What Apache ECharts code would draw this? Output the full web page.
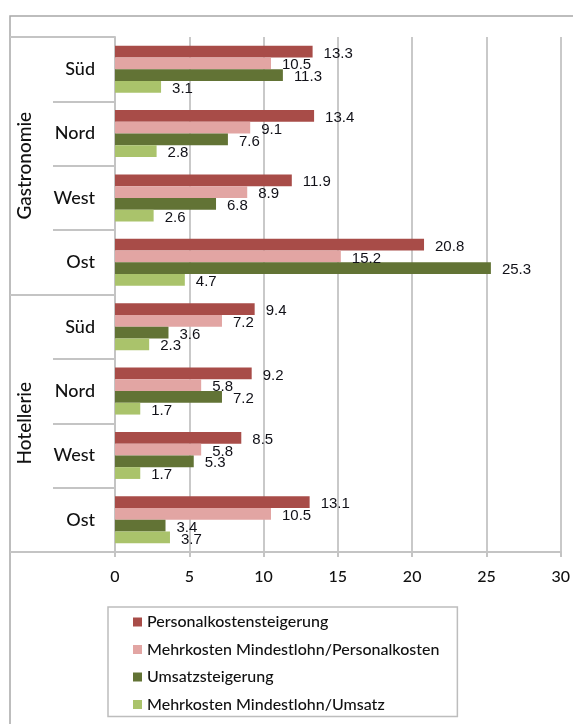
<!DOCTYPE html>
<html>
<head>
<meta charset="utf-8">
<script src="https://cdn.jsdelivr.net/npm/echarts@6/dist/echarts.min.js"></script>
<style>
html,body{margin:0;padding:0;background:#fff;}
#chart{width:573px;height:724px;}
</style>
</head>
<body>
<div id="chart"></div>
<script>
var regions = ['Süd', 'Nord', 'West', 'Ost', 'Süd', 'Nord', 'West', 'Ost'];
var groups = ['Gastronomie', 'Hotellerie'];
var seriesNames = ['Personalkostensteigerung', 'Mehrkosten Mindestlohn/Personalkosten', 'Umsatzsteigerung', 'Mehrkosten Mindestlohn/Umsatz'];
var personalkosten = [13.3, 13.4, 11.9, 20.8, 9.4, 9.2, 8.5, 13.1];
var mehrkostenPersonal = [10.5, 9.1, 8.9, 15.2, 7.2, 5.8, 5.8, 10.5];
var umsatz = [11.3, 7.6, 6.8, 25.3, 3.6, 7.2, 5.3, 3.4];
var mehrkostenUmsatz = [3.1, 2.8, 2.6, 4.7, 2.3, 1.7, 1.7, 3.7];
var xTicks = [0, 5, 10, 15, 20, 25, 30];

var colors = ['#a84c48', '#e2a5a3', '#627335', '#aac36b'];
var values = [personalkosten, mehrkostenPersonal, umsatz, mehrkostenUmsatz];
var lineColor = '#c4c4c4';
var textFont = 'Lato';

var chart = echarts.init(document.getElementById('chart'), null, {renderer: 'canvas'});
var series = seriesNames.map(function (name, i) {
  return {
    name: name,
    type: 'bar',
    yAxisIndex: 0,
    data: values[i],
    barGap: '0%',
    barCategoryGap: '27%',
    itemStyle: {color: colors[i]},
    label: {
      show: true,
      position: 'right',
      distance: 11,
      offset: [0, 2],
      fontFamily: 'Liberation Sans',
      fontSize: 15,
      color: '#111118'
    }
  };
});

chart.setOption({
  animation: false,
  color: colors,
  graphic: [{
    type: 'rect',
    shape: {x: 10, y: 16, width: 700, height: 800},
    style: {fill: 'none', stroke: '#a8a8a8', lineWidth: 1.5},
    silent: true
  }],
  grid: {left: 115, top: 37, right: 10, bottom: 172, containLabel: false},
  legend: {
    orient: 'vertical',
    left: 108,
    top: 607,
    data: seriesNames,
    icon: 'rect',
    itemWidth: 9,
    itemHeight: 9,
    itemGap: 11.5,
    padding: [7, 18, 4, 25],
    borderColor: '#bdbdbd',
    borderWidth: 1.5,
    textStyle: {fontFamily: textFont, fontWeight: 500, fontSize: 16, lineHeight: 16, color: '#111'}
  },
  xAxis: {
    type: 'value',
    min: 0,
    max: 30,
    interval: 5,
    axisLine: {show: true, lineStyle: {color: lineColor, width: 2}},
    axisTick: {show: true, length: 5, lineStyle: {color: lineColor, width: 2}},
    splitLine: {show: true, lineStyle: {color: '#c9c9c9', width: 2}},
    axisLabel: {
      margin: 17,
      fontFamily: textFont,
      fontWeight: 500,
      fontSize: 16,
      color: '#111',
      formatter: function (v) { return xTicks.indexOf(v) >= 0 ? String(v) : ''; }
    }
  },
  yAxis: [{
    type: 'category',
    data: regions,
    inverse: true,
    position: 'left',
    axisLine: {show: true, lineStyle: {color: lineColor, width: 2}},
    axisTick: {show: true, length: 62, interval: 0, lineStyle: {color: lineColor, width: 2}},
    axisLabel: {margin: 20, fontFamily: textFont, fontWeight: 500, fontSize: 18, color: '#111', interval: 0}
  }, {
    type: 'category',
    data: groups,
    inverse: true,
    position: 'left',
    axisLine: {show: false},
    axisTick: {show: true, length: 105, interval: 0, lineStyle: {color: lineColor, width: 2}},
    axisLabel: {rotate: 90, margin: 81, fontFamily: textFont, fontWeight: 500, fontSize: 19, color: '#111', interval: 0}
  }],
  series: series
});
</script>
</body>
</html>
